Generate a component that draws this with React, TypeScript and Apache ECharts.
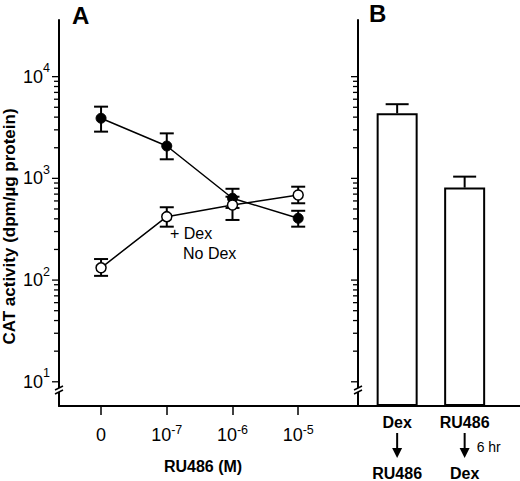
import React, { useEffect, useRef } from "react";
import * as echarts from "echarts";

// ---------- data ----------
const xPositions = [0, 1, 2, 3];
const xTickLabels = ["0", "10^-7", "10^-6", "10^-5"];
const seriesNames = ["+ Dex", "No Dex"];

const dexMean = [3900, 2080, 637, 405];
const dexLow = [2880, 1540, 512, 335];
const dexHigh = [5070, 2770, 790, 480];

const noDexMean = [132, 420, 547, 687];
const noDexLow = [110, 335, 390, 569];
const noDexHigh = [161, 520, 660, 828];

const bPositions = [0, 1];
const bLabelTop = ["Dex", "RU486"];
const bLabelBottom = ["RU486", "Dex"];
const bArrowNote = ["", "6 hr"];
const bMean = [4360, 811];
const bHigh = [5360, 1040];

const yDecades = [10, 100, 1000, 10000];
const yTickLabels = ["10^1", "10^2", "10^3", "10^4"];
const minorMultipliers = [2, 3, 4, 5, 6, 7, 8, 9];

const xAxisTitle = "RU486 (M)";
const yAxisTitle = "CAT activity (dpm/\u00b5g protein)";
const panelLetters = ["A", "B"];

// ---------- layout constants ----------
const Y_MIN = 5.78;
const Y_MAX = 36060;
const XA_MIN = -0.64;
const XA_MAX = 3.91;
const XB_MIN = -0.58;
const XB_MAX = 1.82;
const BREAK_VALUE = 8.3;
const FONT = "'Liberation Sans', Arial, Helvetica, sans-serif";

function toRich(label: string): string {
  const parts = label.split("^");
  return parts.length > 1 ? `{base|${parts[0]}}{sup|${parts[1]}}` : `{base|${parts[0]}}`;
}

const tickData: number[][] = [];
yDecades.forEach((d, i) => {
  tickData.push([d, 1]);
  if (i < yDecades.length - 1) minorMultipliers.forEach((m) => tickData.push([m * d, 0]));
});

function tickSeries(xMin: number, idx: number) {
  return {
    type: "custom",
    xAxisIndex: idx,
    yAxisIndex: idx,
    silent: true,
    z: 5,
    data: tickData.map((t) => [xMin, t[0], t[1]]),
    renderItem: (params: any, api: any) => {
      const p = api.coord([api.value(0), api.value(1)]);
      const len = api.value(2) ? 7 : 5;
      return {
        type: "line",
        shape: { x1: p[0] - len, y1: p[1], x2: p[0], y2: p[1] },
        style: { stroke: "#000", lineWidth: 1.3 },
      };
    },
  };
}

function breakSeries(xMin: number, idx: number) {
  return {
    type: "custom",
    xAxisIndex: idx,
    yAxisIndex: idx,
    silent: true,
    z: 6,
    data: [[xMin, BREAK_VALUE]],
    renderItem: (params: any, api: any) => {
      const p = api.coord([api.value(0), api.value(1)]);
      const x = p[0];
      const y = p[1];
      const st = { stroke: "#000", lineWidth: 1.5 };
      return {
        type: "group",
        children: [
          { type: "rect", shape: { x: x - 3, y: y - 2, width: 6, height: 4 }, style: { fill: "#fff" } },
          { type: "line", shape: { x1: x - 4, y1: y, x2: x + 4, y2: y - 4 }, style: st },
          { type: "line", shape: { x1: x - 4, y1: y + 4, x2: x + 4, y2: y }, style: st },
        ],
      };
    },
  };
}

function errorSeries(lo: number[], hi: number[], name: string) {
  return {
    type: "custom",
    name,
    xAxisIndex: 0,
    yAxisIndex: 0,
    silent: true,
    z: 2,
    data: xPositions.map((x, i) => [x, lo[i], hi[i]]),
    renderItem: (params: any, api: any) => {
      const x = api.value(0);
      const a = api.coord([x, api.value(1)]);
      const b = api.coord([x, api.value(2)]);
      const w = 7;
      const st = { stroke: "#000", lineWidth: 2 };
      return {
        type: "group",
        children: [
          { type: "line", shape: { x1: a[0], y1: a[1], x2: b[0], y2: b[1] }, style: st },
          { type: "line", shape: { x1: a[0] - w, y1: a[1], x2: a[0] + w, y2: a[1] }, style: st },
          { type: "line", shape: { x1: b[0] - w, y1: b[1], x2: b[0] + w, y2: b[1] }, style: st },
        ],
      };
    },
  };
}

export default function App() {
  const ref = useRef<HTMLDivElement>(null);

  useEffect(() => {
    if (!ref.current) return;
    const chart = echarts.init(ref.current, null, { renderer: "svg" });

    const yAxisCommon = {
      type: "log",
      min: Y_MIN,
      max: Y_MAX,
      startValue: Y_MIN,
      splitLine: { show: false },
      axisTick: { show: false },
      axisLine: { show: true, onZero: false, lineStyle: { color: "#000", width: 2 } },
    };

    const supRich = {
      base: { fontSize: 18, lineHeight: 30, fontFamily: FONT, color: "#000" },
      sup: { fontSize: 12.5, lineHeight: 12, verticalAlign: "top", fontFamily: FONT, color: "#000" },
    };

    const option: any = {
      animation: false,
      backgroundColor: "#fff",
      grid: [
        { left: 59, top: 20, width: 299, height: 386 },
        { left: 358, top: 20, width: 162, height: 386 },
      ],
      xAxis: [
        {
          type: "value",
          gridIndex: 0,
          min: XA_MIN,
          max: XA_MAX,
          z: 10,
          splitLine: { show: false },
          axisLine: { show: true, onZero: false, lineStyle: { color: "#000", width: 2 } },
          axisTick: { show: true, length: 9, customValues: xPositions, lineStyle: { color: "#000", width: 1.5 } },
          axisLabel: {
            customValues: xPositions,
            margin: 17,
            fontSize: 18,
            fontFamily: FONT,
            color: "#000",
            formatter: (v: number) => toRich(xTickLabels[Math.round(v)] ?? ""),
            rich: {
              base: { fontSize: 18, lineHeight: 24, fontFamily: FONT, color: "#000" },
              sup: { fontSize: 12.5, lineHeight: 12, verticalAlign: "top", fontFamily: FONT, color: "#000" },
            },
          },
          name: xAxisTitle,
          nameLocation: "middle",
          nameGap: 52,
          nameTextStyle: { fontSize: 16, fontWeight: "bold", fontFamily: FONT, color: "#000", padding: [0, 11, 0, 0] },
        },
        {
          type: "value",
          gridIndex: 1,
          min: XB_MIN,
          max: XB_MAX,
          z: 10,
          splitLine: { show: false },
          axisLine: { show: true, onZero: false, lineStyle: { color: "#000", width: 2 } },
          axisTick: { show: false },
          axisLabel: {
            customValues: bPositions,
            margin: 6,
            fontSize: 16,
            fontWeight: "bold",
            fontFamily: FONT,
            color: "#000",
            formatter: (v: number) => {
              const i = Math.round(v);
              return `{b|${bLabelTop[i]}}\n{gap| }\n{b|${bLabelBottom[i]}}`;
            },
            rich: {
              b: { fontSize: 16, fontWeight: "bold", lineHeight: 20, fontFamily: FONT, color: "#000" },
              gap: { fontSize: 10, lineHeight: 31 },
            },
          },
        },
      ],
      yAxis: [
        {
          ...yAxisCommon,
          gridIndex: 0,
          axisLabel: {
            show: true,
            margin: 9,
            fontSize: 18,
            fontFamily: FONT,
            color: "#000",
            formatter: (v: number) => {
              const i = yDecades.findIndex((d) => Math.abs(d - v) / d < 1e-6);
              return i >= 0 ? toRich(yTickLabels[i]) : "";
            },
            rich: supRich,
          },
        },
        {
          ...yAxisCommon,
          gridIndex: 1,
          axisLabel: { show: false },
        },
      ],
      graphic: [
        {
          type: "text",
          x: 9,
          y: 226.5,
          rotation: Math.PI / 2,
          style: {
            text: yAxisTitle,
            fill: "#000",
            font: `bold 17px ${FONT}`,
            textAlign: "center",
            textVerticalAlign: "middle",
          },
        },
        {
          type: "text",
          x: 72,
          y: 15,
          style: { text: panelLetters[0], fill: "#000", font: `bold 24px ${FONT}`, textVerticalAlign: "middle" },
        },
        {
          type: "text",
          x: 369,
          y: 13,
          style: { text: panelLetters[1], fill: "#000", font: `bold 24px ${FONT}`, textVerticalAlign: "middle" },
        },
        {
          type: "text",
          x: 170,
          y: 233,
          style: { text: seriesNames[0], fill: "#000", font: `16px ${FONT}`, textVerticalAlign: "middle" },
        },
        {
          type: "text",
          x: 183,
          y: 253,
          style: { text: seriesNames[1], fill: "#000", font: `16px ${FONT}`, textVerticalAlign: "middle" },
        },
      ],
      series: [
        tickSeries(XA_MIN, 0),
        tickSeries(XB_MIN, 1),
        breakSeries(XA_MIN, 0),
        breakSeries(XB_MIN, 1),
        errorSeries(dexLow, dexHigh, seriesNames[0] + " error"),
        errorSeries(noDexLow, noDexHigh, seriesNames[1] + " error"),
        {
          type: "line",
          name: seriesNames[0],
          xAxisIndex: 0,
          yAxisIndex: 0,
          z: 3,
          data: xPositions.map((x, i) => [x, dexMean[i]]),
          symbol: "circle",
          symbolSize: 10,
          lineStyle: { color: "#000", width: 1.5 },
          itemStyle: { color: "#000", borderColor: "#000", borderWidth: 1 },
        },
        {
          type: "line",
          name: seriesNames[1],
          xAxisIndex: 0,
          yAxisIndex: 0,
          z: 4,
          data: xPositions.map((x, i) => [x, noDexMean[i]]),
          symbol: "circle",
          symbolSize: 10,
          lineStyle: { color: "#000", width: 1.5 },
          itemStyle: { color: "#fff", borderColor: "#000", borderWidth: 1.5 },
        },
        {
          type: "bar",
          xAxisIndex: 1,
          yAxisIndex: 1,
          z: 2,
          clip: true,
          barWidth: 41,
          data: bPositions.map((x, i) => [x, bMean[i]]),
          itemStyle: { color: "#fff", borderColor: "#000", borderWidth: 2 },
        },
        {
          type: "custom",
          xAxisIndex: 1,
          yAxisIndex: 1,
          silent: true,
          z: 1,
          data: bPositions.map((x, i) => [x, bMean[i], bHigh[i]]),
          renderItem: (params: any, api: any) => {
            const x = api.value(0);
            const a = api.coord([x, api.value(1)]);
            const b = api.coord([x, api.value(2)]);
            const w = 11.5;
            const st = { stroke: "#000", lineWidth: 2 };
            return {
              type: "group",
              children: [
                { type: "line", shape: { x1: a[0], y1: a[1], x2: b[0], y2: b[1] }, style: st },
                { type: "line", shape: { x1: b[0] - w, y1: b[1], x2: b[0] + w, y2: b[1] }, style: st },
              ],
            };
          },
        },
        {
          type: "custom",
          xAxisIndex: 1,
          yAxisIndex: 1,
          silent: true,
          z: 6,
          data: bPositions.map((x) => [x, Y_MIN]),
          renderItem: (params: any, api: any) => {
            const i = params.dataIndex;
            const p = api.coord([api.value(0), api.value(1)]);
            const x = p[0];
            const y0 = p[1];
            const children: any[] = [
              { type: "line", shape: { x1: x, y1: y0 + 27, x2: x, y2: y0 + 44 }, style: { stroke: "#000", lineWidth: 2 } },
              {
                type: "polygon",
                shape: { points: [[x - 5, y0 + 42], [x + 5, y0 + 42], [x, y0 + 52]] },
                style: { fill: "#000" },
              },
            ];
            if (bArrowNote[i]) {
              children.push({
                type: "text",
                x: x + 12,
                y: y0 + 41,
                style: { text: bArrowNote[i], fill: "#000", font: `14px ${FONT}`, textVerticalAlign: "middle" },
              });
            }
            return { type: "group", children };
          },
        },
      ],
    };

    chart.setOption(option);
    return () => chart.dispose();
  }, []);

  return (
    <div
      ref={ref}
      style={{ position: "fixed", left: 0, top: 0, width: 520, height: 481, background: "#fff" }}
    />
  );
}
